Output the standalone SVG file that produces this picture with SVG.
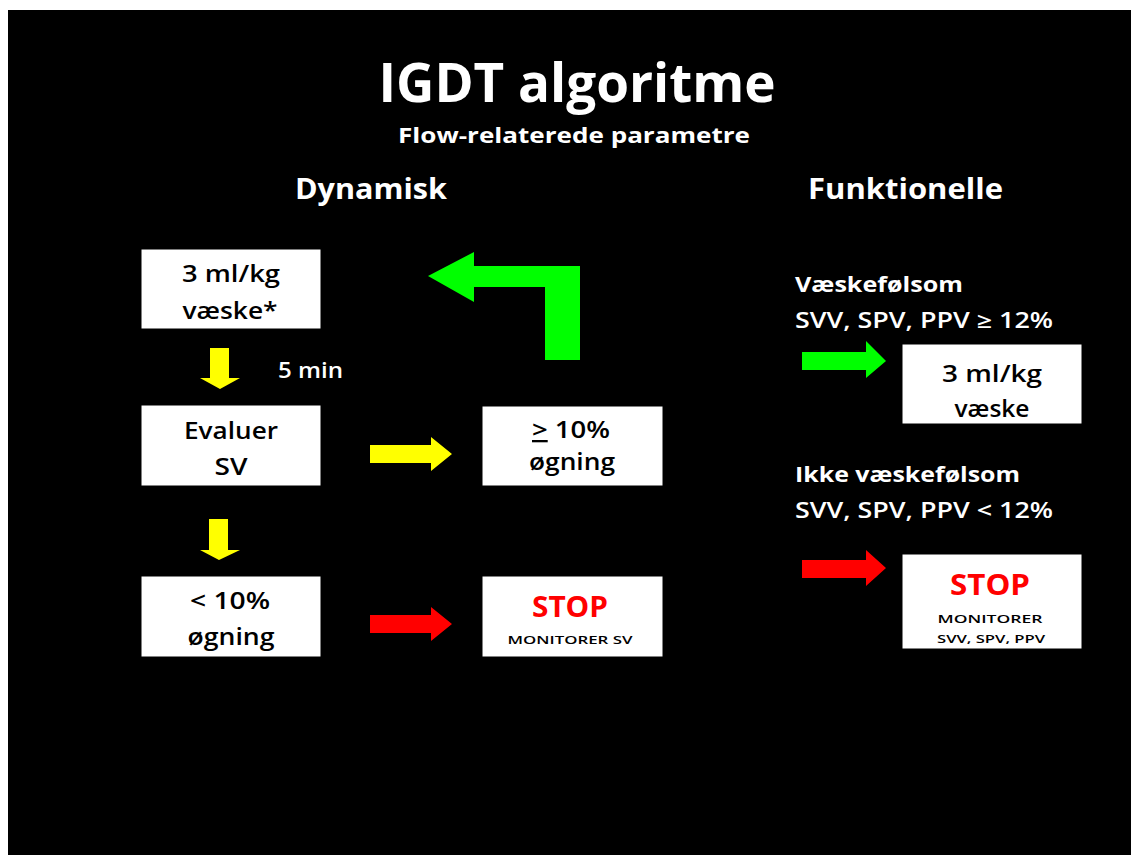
<svg xmlns="http://www.w3.org/2000/svg" width="1135" height="855" viewBox="0 0 1135 855">
  <style>
    text { font-family: "Open Sans", "Liberation Sans", sans-serif; }
    .head { fill: #ffffff; font-weight: bold; }
    .lbl { fill: #ffffff; font-size: 21px; font-weight: 600; }
    .lbl.strong { font-weight: bold; }
    .box { fill: #ffffff; stroke: #000000; stroke-width: 1; }
    .bt { fill: #000000; font-size: 23px; font-weight: 600; text-anchor: middle; }
    .stop { fill: #ff0000; font-size: 29px; font-weight: bold; text-anchor: middle; }
    .mon { fill: #000000; font-size: 11px; font-weight: 600; text-anchor: middle; }
    .yel { fill: #ffff00; }
    .grn { fill: #00ff00; }
    .red { fill: #ff0000; }
  </style>

  <rect x="0" y="0" width="1135" height="855" fill="#ffffff"/>
  <rect x="8" y="10" width="1123" height="845" fill="#000000"/>

  <!-- headings -->
  <g id="title">
    <text class="head" x="577" y="102" font-size="54" text-anchor="middle" textLength="397" lengthAdjust="spacingAndGlyphs">IGDT algoritme</text>
    <text class="head" x="574" y="143" font-size="21" text-anchor="middle" textLength="352" lengthAdjust="spacingAndGlyphs">Flow-relaterede parametre</text>
  </g>
  <g id="col-dynamisk">
    <text class="head" x="295" y="199" font-size="29" textLength="152" lengthAdjust="spacingAndGlyphs">Dynamisk</text>
  </g>
  <g id="col-funktionelle">
    <text class="head" x="808" y="199" font-size="29" textLength="195" lengthAdjust="spacingAndGlyphs">Funktionelle</text>
  </g>

  <!-- left column nodes -->
  <g id="n-fluid">
    <rect class="box" x="141" y="249" width="180" height="80"/>
    <text class="bt" x="231" y="282" textLength="98" lengthAdjust="spacingAndGlyphs">3 ml/kg</text>
    <text class="bt" x="230" y="319" textLength="95" lengthAdjust="spacingAndGlyphs">væske*</text>
  </g>
  <g id="n-wait">
    <text class="lbl" x="278" y="378" textLength="65" lengthAdjust="spacingAndGlyphs">5 min</text>
  </g>
  <g id="n-evaluate">
    <rect class="box" x="141" y="405" width="180" height="81"/>
    <text class="bt" x="231" y="439" textLength="94" lengthAdjust="spacingAndGlyphs">Evaluer</text>
    <text class="bt" x="231" y="475" textLength="33" lengthAdjust="spacingAndGlyphs">SV</text>
  </g>
  <g id="n-increase">
    <rect class="box" x="482" y="406" width="181" height="80"/>
    <text class="bt" x="571" y="438" textLength="78" lengthAdjust="spacingAndGlyphs"><tspan text-decoration="underline">&gt;</tspan> 10%</text>
    <text class="bt" x="572" y="470" textLength="86" lengthAdjust="spacingAndGlyphs">øgning</text>
  </g>
  <g id="n-noincrease">
    <rect class="box" x="141" y="576" width="180" height="81"/>
    <text class="bt" x="230" y="609" textLength="80" lengthAdjust="spacingAndGlyphs">&lt; 10%</text>
    <text class="bt" x="231" y="645" textLength="87" lengthAdjust="spacingAndGlyphs">øgning</text>
  </g>
  <g id="n-stop-sv">
    <rect class="box" x="482" y="576" width="181" height="81"/>
    <text class="stop" x="570" y="617" textLength="76" lengthAdjust="spacingAndGlyphs">STOP</text>
    <text class="mon" x="570" y="644" textLength="125" lengthAdjust="spacingAndGlyphs">MONITORER SV</text>
  </g>

  <!-- right column -->
  <g id="n-responsive-label">
    <text class="lbl strong" x="795" y="292" textLength="168" lengthAdjust="spacingAndGlyphs">Væskefølsom</text>
    <text class="lbl" x="795" y="328" textLength="258" lengthAdjust="spacingAndGlyphs">SVV,  SPV, PPV ≥ 12%</text>
  </g>
  <g id="n-fluid-right">
    <rect class="box" x="902" y="344" width="180" height="80"/>
    <text class="bt" x="992" y="382" textLength="100" lengthAdjust="spacingAndGlyphs">3 ml/kg</text>
    <text class="bt" x="992" y="417" textLength="75" lengthAdjust="spacingAndGlyphs">væske</text>
  </g>
  <g id="n-nonresponsive-label">
    <text class="lbl strong" x="795" y="482" textLength="225" lengthAdjust="spacingAndGlyphs">Ikke væskefølsom</text>
    <text class="lbl" x="795" y="518" textLength="258" lengthAdjust="spacingAndGlyphs">SVV,  SPV, PPV &lt; 12%</text>
  </g>
  <g id="n-stop-right">
    <rect class="box" x="902" y="554" width="180" height="95"/>
    <text class="stop" x="990" y="595" textLength="80" lengthAdjust="spacingAndGlyphs">STOP</text>
    <text class="mon" x="990" y="623" textLength="105" lengthAdjust="spacingAndGlyphs">MONITORER</text>
    <text class="mon" x="991" y="643" textLength="108" lengthAdjust="spacingAndGlyphs">SVV, SPV, PPV</text>
  </g>

  <!-- block arrows -->
  <g id="connectors">
    <!-- down: fluid -> evaluate -->
    <polygon class="yel" points="210,348 229,348 229,378 240,378 220,389 200,378 210,378"/>
    <!-- down: evaluate -> <10% -->
    <polygon class="yel" points="209,519 228,519 228,550 240,550 219,560 200,550 209,550"/>
    <!-- right: evaluate -> >=10% -->
    <polygon class="yel" points="370,445 431,445 431,437 452,454 431,471 431,463 370,463"/>
    <!-- right: <10% -> stop -->
    <polygon class="red" points="370,615 431,615 431,607 452,624 431,641 431,633 370,633"/>
    <!-- loop back: >=10% -> fluid -->
    <polygon class="grn" points="580,266 580,360 545,360 545,287 474,287 474,302 428,276 474,252 474,266"/>
    <!-- right column arrows -->
    <polygon class="grn" points="802,352 866,352 866,341 886,361 866,378 866,370 802,370"/>
    <polygon class="red" points="802,560 866,560 866,550 886,568 866,586 866,578 802,578"/>
  </g>
</svg>
